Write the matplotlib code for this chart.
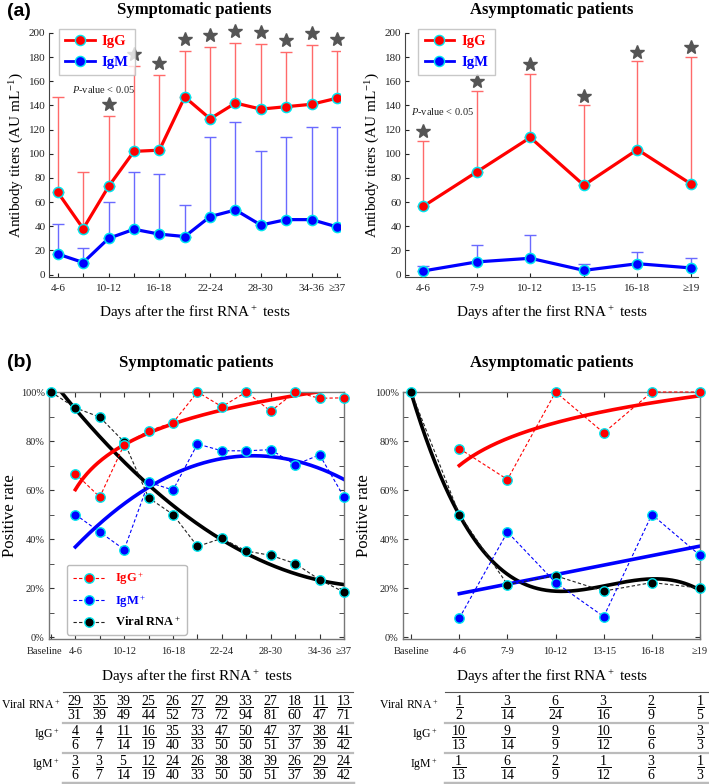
import numpy as np
import matplotlib.pyplot as plt
from matplotlib.lines import Line2D
from matplotlib.transforms import blended_transform_factory, ScaledTranslation
from matplotlib.ticker import FixedLocator, MultipleLocator, PercentFormatter

plt.rcParams['font.family'] = ['Liberation Serif', 'DejaVu Serif']
plt.rcParams['mathtext.fontset'] = 'custom'
plt.rcParams['mathtext.rm'] = 'Liberation Serif'
plt.rcParams['mathtext.it'] = 'Liberation Serif:italic'
plt.rcParams['mathtext.bf'] = 'Liberation Serif:bold'

# ---- (a) antibody titers ----
sym_days = ['4-6', '7-9', '10-12', '13-15', '16-18', '19-21', '22-24', '25-27',
            '28-30', '31-33', '34-36', '≥37']
sym_igg = [68, 38, 73, 102, 103, 147, 129, 142, 137, 139, 141, 146]
sym_igg_up = [147, 85, 131, 173, 165, 185, 188, 192, 191, 184, 190, 185]
sym_igm = [17, 10, 30, 37.5, 33.5, 31.5, 48, 53.5, 41, 45.5, 45.5, 39.5]
sym_igm_up = [41.5, 22, 60, 85, 83, 58, 113.5, 126, 102.5, 114, 122, 122]
sym_star = [0, 0, 1, 1, 1, 1, 1, 1, 1, 1, 1, 1]
sym_shown = ['4-6', '10-12', '16-18', '22-24', '28-30', '34-36', '≥37']

asy_days = ['4-6', '7-9', '10-12', '13-15', '16-18', '≥19']
asy_igg = [56.5, 85, 113.5, 74, 103.5, 75]
asy_igg_up = [111, 152, 166, 140, 176.5, 180]
asy_igm = [3, 10.5, 13.5, 3.5, 9, 5.5]
asy_igm_up = [7, 24.5, 32.5, 9, 19, 13.5]
asy_star = [1, 1, 1, 1, 1, 1]

# ---- (b) positive rates (counts) ----
sym_rna_k = [29, 35, 39, 25, 26, 27, 29, 33, 27, 18, 11, 13]
sym_rna_n = [31, 39, 49, 44, 52, 73, 72, 94, 81, 60, 47, 71]
sym_igg_k = [4, 4, 11, 16, 35, 33, 47, 50, 47, 37, 38, 41]
sym_igg_n = [6, 7, 14, 19, 40, 33, 50, 50, 51, 37, 39, 42]
sym_igm_k = [3, 3, 5, 12, 24, 26, 38, 38, 39, 26, 29, 24]
sym_igm_n = [6, 7, 14, 19, 40, 33, 50, 50, 51, 37, 39, 42]

asy_rna_k = [1, 3, 6, 3, 2, 1]
asy_rna_n = [2, 14, 24, 16, 9, 5]
asy_igg_k = [10, 9, 9, 10, 6, 3]
asy_igg_n = [13, 14, 9, 12, 6, 3]
asy_igm_k = [1, 6, 2, 1, 3, 1]
asy_igm_n = [13, 14, 9, 12, 6, 3]

RED, BLUE, CYAN = '#ff0000', '#0000ff', '#00e5ee'
W, H = 709, 784
fig = plt.figure(figsize=(W / 100, H / 100), dpi=100)


def box(l, r, t, b):
    return [l / W, 1 - b / H, (r - l) / W, (b - t) / H]


def log_fit(x, y):
    b, a = np.polyfit(np.log(x), y, 1)
    return lambda t: a + b * np.log(t)


def titer_panel(ax, labels, shown, igg, igg_up, igm, igm_up, star, star_off, xlim, leg_x, ptxt):
    x = np.arange(len(labels))
    igg, igg_up, igm, igm_up = map(np.asarray, (igg, igg_up, igm, igm_up))
    ax.errorbar(x, igg, yerr=[np.zeros_like(igg), igg_up - igg], fmt='none',
                ecolor='#ff6a6a', elinewidth=1, capsize=4.5, capthick=1, zorder=1)
    ax.errorbar(x, igm, yerr=[np.zeros_like(igm), igm_up - igm], fmt='none',
                ecolor='#6a6aff', elinewidth=1, capsize=4.5, capthick=1, zorder=1)
    ax.plot(x, igg, '-o', color=RED, lw=2.3, ms=7.3, mfc=RED, mec=CYAN, mew=1.1, zorder=3)
    ax.plot(x, igm, '-o', color=BLUE, lw=2.3, ms=7.3, mfc=BLUE, mec=CYAN, mew=1.1, zorder=3)
    sel = np.asarray(star) == 1
    ax.plot(x[sel], igg_up[sel] + star_off, '*', color='#555555', ms=10,
            ls='none', clip_on=False, zorder=4)
    ax.set_xlim(*xlim)
    ax.set_ylim(-2, 200)
    ax.set_yticks(np.arange(0, 201, 20))
    ax.set_xticks(x)
    ax.set_xticklabels([lb if lb in shown else '' for lb in labels])
    ax.tick_params(direction='in', length=3, labelsize=8, colors='#222222')
    ax.tick_params(axis='y', pad=2.5)
    ax.tick_params(axis='x', pad=5)
    for s in ('top', 'right'):
        ax.spines[s].set_visible(False)
    for s in ('left', 'bottom'):
        ax.spines[s].set_color('#444444')
    ax.set_ylabel('Antibody titers (AU mL$^{-1}$)', fontsize=11, labelpad=2)
    ax.set_xlabel('Days after the first RNA$^+$ tests', fontsize=11, labelpad=8)
    ax.text(ptxt[0], ptxt[1], '$P$-value < 0.05', fontsize=7.5, color='#222222')
    hs = [Line2D([], [], color=RED, lw=2, marker='o', ms=7.3, mfc=RED, mec=CYAN),
          Line2D([], [], color=BLUE, lw=2, marker='o', ms=7.3, mfc=BLUE, mec=CYAN)]
    leg = ax.legend(hs, ['IgG', 'IgM'], loc='upper left', bbox_to_anchor=(leg_x, 1.018),
                    prop={'weight': 'bold', 'size': 10.5}, handlelength=2.0, handletextpad=0.5,
                    fancybox=False, edgecolor='#bbbbbb', borderaxespad=0,
                    labelspacing=0.5, borderpad=0.45)
    leg.get_frame().set_linewidth(1)
    for t, c in zip(leg.get_texts(), (RED, BLUE)):
        t.set_color(c)


ax1 = fig.add_axes(box(49, 340, 33, 277))
titer_panel(ax1, sym_days, sym_shown, sym_igg, sym_igg_up, sym_igm, sym_igm_up,
            sym_star, 10, (-0.35, 11.12), 0.034, (0.55, 150))
ax1.set_title('Symptomatic patients', fontsize=12, fontweight='bold', pad=14)

ax2 = fig.add_axes(box(405, 698, 33, 277))
titer_panel(ax2, asy_days, asy_days, asy_igg, asy_igg_up, asy_igm, asy_igm_up,
            asy_star, 8, (-0.34, 5.13), 0.045, (-0.22, 132))
ax2.set_title('Asymptomatic patients', fontsize=12, fontweight='bold', pad=14)


# ---- (b) ----
def rate_panel(ax, labels, shown, rna_k, rna_n, igg_k, igg_n, igm_k, igm_n, xlim,
               rna_deg, igm_deg, legend):
    n = len(labels) - 1
    xb = np.arange(n + 1)
    x = np.arange(1, n + 1)
    rna = np.concatenate([[1.0], np.array(rna_k) / np.array(rna_n)])
    igg = np.array(igg_k) / np.array(igg_n)
    igm = np.array(igm_k) / np.array(igm_n)
    xf0 = np.linspace(0, n, 300)
    xf1 = np.linspace(1, n, 300)
    # fitted trends
    ax.plot(xf0, np.polyval(np.polyfit(xb, rna, rna_deg), xf0), color='k', lw=2.6, zorder=2)
    ax.plot(xf1, np.polyval(np.polyfit(x, igm, igm_deg), xf1), color=BLUE, lw=2.6, zorder=2)
    ax.plot(xf1, log_fit(x, igg)(xf1), color=RED, lw=2.6, zorder=2)
    kw = dict(ls=(0, (3, 2)), lw=0.8, marker='o', ms=6.8, mec=CYAN, mew=1, clip_on=False, zorder=3)
    ax.plot(xb, rna, color='#222222', mfc='k', label='Viral RNA$^+$', **kw)
    ax.plot(x, igm, color=BLUE, mfc=BLUE, label='IgM$^+$', **kw)
    ax.plot(x, igg, color=RED, mfc=RED, label='IgG$^+$', **kw)
    ax.set_xlim(*xlim)
    ax.set_ylim(-0.008, 1.0)
    ax.yaxis.set_major_locator(FixedLocator(np.arange(0, 1.01, 0.2)))
    ax.yaxis.set_minor_locator(MultipleLocator(0.1))
    ax.yaxis.set_major_formatter(PercentFormatter(1.0, decimals=0))
    ax.set_xticks(xb)
    ax.set_xticklabels([lb if lb in shown else '' for lb in labels])
    ax.tick_params(which='both', direction='in', top=True, right=True, labelsize=7.5,
                   colors='#333333', labelcolor='#222222', length=3.5)
    ax.tick_params(axis='x', pad=6)
    ax.tick_params(axis='y', pad=3)
    for s in ax.spines.values():
        s.set_color('#777777')
        s.set_linewidth(1)
    ax.set_ylabel('Positive rate', fontsize=12, labelpad=2)
    ax.set_xlabel('Days after the first RNA$^+$ tests', fontsize=11, labelpad=8)
    if legend:
        h, l = ax.get_legend_handles_labels()
        leg = ax.legend(h[::-1], l[::-1], loc='upper left', bbox_to_anchor=(0.061, 0.30),
                        prop={'weight': 'bold', 'size': 9}, handlelength=2.6,
                        edgecolor='#bbbbbb', borderaxespad=0, labelspacing=0.45,
                        borderpad=0.45, framealpha=1)
        for t, c in zip(leg.get_texts(), (RED, BLUE, 'k')):
            t.set_color(c)


sym_labels = ['Baseline'] + sym_days
ax3 = fig.add_axes(box(49, 344, 392, 639))
rate_panel(ax3, sym_labels, ['Baseline'] + sym_shown, sym_rna_k, sym_rna_n, sym_igg_k, sym_igg_n,
           sym_igm_k, sym_igm_n, (-0.08, 12), 2, 2, True)
ax3.set_title('Symptomatic patients', fontsize=12, fontweight='bold', pad=18)
base = ax3.get_xticklabels()[0]
base.set_transform(base.get_transform() + ScaledTranslation(-6 / 100, 0, fig.dpi_scale_trans))

asy_labels = ['Baseline'] + asy_days
ax4 = fig.add_axes(box(403, 700, 392, 639))
rate_panel(ax4, asy_labels, asy_labels, asy_rna_k, asy_rna_n, asy_igg_k, asy_igg_n,
           asy_igm_k, asy_igm_n, (-0.17, 6), 3, 1, False)
ax4.set_title('Asymptomatic patients', fontsize=12, fontweight='bold', pad=18)

fig.text(7 / W, 1 - 12 / H, '(a)', fontsize=14, fontweight='bold', family='Liberation Sans', va='center')
fig.text(7 / W, 1 - 362 / H, '(b)', fontsize=14, fontweight='bold', family='Liberation Sans', va='center')


# ---- count tables ----
def count_table(ax, lab_x, x0, x1, rows):
    tr = blended_transform_factory(ax.transData, fig.transFigure)
    ys = [707, 737, 767]
    for y, (name, k, n) in zip(ys, rows):
        fig.text(lab_x / W, 1 - (y - 2) / H, name, ha='right', va='center', fontsize=8.5)
        for i, (a, b) in enumerate(zip(k, n)):
            ax.text(i + 1, 1 - (y + 1) / H, r'$\dfrac{%d}{%d}$' % (a, b), transform=tr,
                    ha='center', va='center', fontsize=10, clip_on=False)
    for y, c, lw in [(692, '#555555', 0.8), (723, '#bbbbbb', 1.6), (753, '#bbbbbb', 1.6), (783, '#bbbbbb', 2.5)]:
        fig.add_artist(Line2D([x0 / W, x1 / W], [1 - y / H, 1 - y / H], color=c, lw=lw,
                              transform=fig.transFigure))


count_table(ax3, 60, 63, 353, [('Viral RNA$^+$', sym_rna_k, sym_rna_n),
                               ('IgG$^+$', sym_igg_k, sym_igg_n),
                               ('IgM$^+$', sym_igm_k, sym_igm_n)])
count_table(ax4, 438, 445, 709, [('Viral RNA$^+$', asy_rna_k, asy_rna_n),
                                 ('IgG$^+$', asy_igg_k, asy_igg_n),
                                 ('IgM$^+$', asy_igm_k, asy_igm_n)])

fig.savefig('out.png', dpi=100)
